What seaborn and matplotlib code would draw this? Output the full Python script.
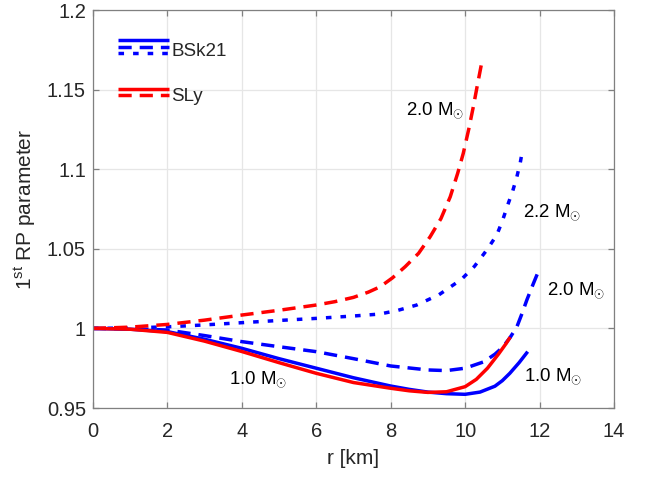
import numpy as np
import pandas as pd
import matplotlib
matplotlib.use("Agg")
import matplotlib.pyplot as plt
import seaborn as sns
from matplotlib.lines import Line2D
from matplotlib.legend_handler import HandlerBase

# ---- data ----
r_bsk_10 = [0, 1, 2, 3, 4, 5, 6, 7, 8, 8.5, 9, 9.5, 10, 10.4, 10.8, 11.0, 11.2, 11.45, 11.68]
v_bsk_10 = [1.0, 0.9995, 0.998, 0.9932, 0.9875, 0.981, 0.975, 0.969, 0.9638, 0.9617, 0.9600,
            0.9590, 0.9586, 0.9600, 0.9637, 0.9672, 0.9718, 0.9785, 0.9854]

r_sly_10 = [0, 1, 2, 3, 4, 5, 6, 7, 8, 8.5, 9, 9.5, 10, 10.3, 10.6, 10.9, 11.1, 11.21]
v_sly_10 = [1.0, 0.9995, 0.9975, 0.992, 0.9855, 0.9785, 0.9718, 0.966, 0.9624, 0.9608, 0.9598,
            0.9602, 0.9634, 0.9680, 0.9750, 0.9840, 0.9905, 0.9945]

r_bsk_20 = [0, 1, 2, 3, 4, 5, 6, 7, 8, 9, 9.5, 10, 10.5, 10.8, 11.0, 11.2, 11.39, 11.53,
            11.66, 11.83, 12.0]
v_bsk_20 = [1.0, 0.9998, 0.999, 0.9955, 0.9917, 0.9885, 0.9854, 0.981, 0.9764, 0.9739,
            0.9735, 0.9750, 0.9790, 0.9838, 0.9880, 0.9940, 1.001, 1.0095, 1.018, 1.028, 1.0377]

r_bsk_22 = [0, 1, 2, 3, 4, 5, 6, 7, 7.7, 8.2, 8.7, 9.3, 9.9, 10.25, 10.58, 10.85, 11.0,
            11.16, 11.28, 11.39, 11.48, 11.55]
v_bsk_22 = [1.0, 1.0003, 1.001, 1.0022, 1.0036, 1.005, 1.0063, 1.0078, 1.0090, 1.0114,
            1.0147, 1.0212, 1.0308, 1.0390, 1.0492, 1.0587, 1.0675, 1.0786, 1.0865, 1.0953,
            1.1040, 1.1131]

r_sly_20 = [0, 1, 2, 3, 4, 5, 6, 6.5, 7, 7.4, 7.72, 8.05, 8.39, 8.75, 9.06, 9.35, 9.6, 9.8,
            9.95, 10.1, 10.22, 10.33, 10.45]
v_sly_20 = [1.0, 1.0008, 1.0025, 1.0052, 1.0084, 1.0114, 1.0147, 1.0168, 1.0195, 1.0228,
            1.0262, 1.0318, 1.0388, 1.0472, 1.0576, 1.0690, 1.0827, 1.0975, 1.110, 1.1255,
            1.1393, 1.1530, 1.1675]

x_ticks = [0, 2, 4, 6, 8, 10, 12, 14]
y_ticks = [0.95, 1.0, 1.05, 1.1, 1.15, 1.2]
y_tick_labels = ["0.95", "1", "1.05", "1.1", "1.15", "1.2"]

sns.set_style("white")
plt.rcParams['font.family'] = ['Liberation Sans', 'DejaVu Sans']
plt.rcParams['mathtext.fontset'] = 'custom'
plt.rcParams['mathtext.rm'] = 'Liberation Sans'
plt.rcParams['mathtext.it'] = 'Liberation Sans'

fig = plt.figure(figsize=(6.45, 4.8), dpi=100)
ax = fig.add_axes([0.144, 0.15, 0.808, 0.829])

LW = 2.5
BLUE = "#0000ff"
RED = "#ff0000"
DASH = (3.8, 2.3)
DOT = (1.6, 2.6)

def draw(r, v, color, dashes=None):
    df = pd.DataFrame({"r": r, "v": v})
    sns.lineplot(data=df, x="r", y="v", color=color, lw=LW, ax=ax, sort=False,
                 estimator=None)
    ln = ax.lines[-1]
    if dashes is not None:
        ln.set_dashes(dashes)
    ln.set_solid_capstyle("butt")
    ln.set_dash_capstyle("butt")
    ln.set_solid_joinstyle("round")

draw(r_bsk_10, v_bsk_10, BLUE)
draw(r_bsk_20, v_bsk_20, BLUE, DASH)
draw(r_bsk_22, v_bsk_22, BLUE, DOT)
draw(r_sly_10, v_sly_10, RED)
draw(r_sly_20, v_sly_20, RED, DASH)

ax.set_xlim(0, 14)
ax.set_ylim(0.95, 1.2)
ax.set_xticks(x_ticks)
ax.set_yticks(y_ticks)
ax.set_yticklabels(y_tick_labels)
ax.grid(True, color="#e6e6e6", lw=0.9)
ax.set_axisbelow(True)
for s in ax.spines.values():
    s.set_color("#808080")
    s.set_linewidth(0.9)
ax.tick_params(direction="in", length=4.5, width=0.9, color="#808080",
               labelsize=14.5, labelcolor="#262626", top=True, right=True,
               left=True, bottom=True)
ax.tick_params(axis="x", pad=10)
ax.tick_params(axis="y", pad=5)
ax.set_xlabel("r [km]", fontsize=15, color="#262626", labelpad=6)
ax.set_ylabel(r"1$^{\mathregular{st}}$ RP parameter", fontsize=15, color="#262626", labelpad=6)

# annotations
txt_kw = dict(fontsize=13.4, color="black", va="center", ha="left")
ax.text(8.40, 1.137, r"2.0 M$_{\odot}$", **txt_kw)
ax.text(11.56, 1.073, r"2.2 M$_{\odot}$", **txt_kw)
ax.text(12.2, 1.024, r"2.0 M$_{\odot}$", **txt_kw)
ax.text(11.58, 0.970, r"1.0 M$_{\odot}$", **txt_kw)
ax.text(3.66, 0.968, r"1.0 M$_{\odot}$", **txt_kw)

# legend with stacked line samples
class StackHandler(HandlerBase):
    def __init__(self, styles, **kw):
        super().__init__(**kw)
        self.styles = styles
    def create_artists(self, legend, orig_handle, xdescent, ydescent, width,
                       height, fontsize, trans):
        arts = []
        n = len(self.styles)
        step = 4.6
        y0 = height / 2 + 2 + step * (n - 1) / 2
        for i, (c, d) in enumerate(self.styles):
            y = y0 - i * step
            l = Line2D([-xdescent, -xdescent + width], [y, y], color=c, lw=LW)
            if d is not None:
                l.set_dashes(d)
            l.set_dash_capstyle("butt")
            l.set_solid_capstyle("butt")
            l.set_transform(trans)
            arts.append(l)
        return arts

h1 = Line2D([], [], color=BLUE)
h2 = Line2D([], [], color=RED)
leg = ax.legend([h1, h2], ["BSk21", "SLy"],
                handler_map={h1: StackHandler([(BLUE, None), (BLUE, DASH), (BLUE, DOT)]),
                             h2: StackHandler([(RED, None), (RED, DASH)])},
                loc="upper left", bbox_to_anchor=(0.023, 0.95), frameon=False,
                fontsize=13.5, handlelength=2.7, handletextpad=0.15,
                labelspacing=1.5, borderpad=0.2)

fig.savefig("out.png", dpi=100)
